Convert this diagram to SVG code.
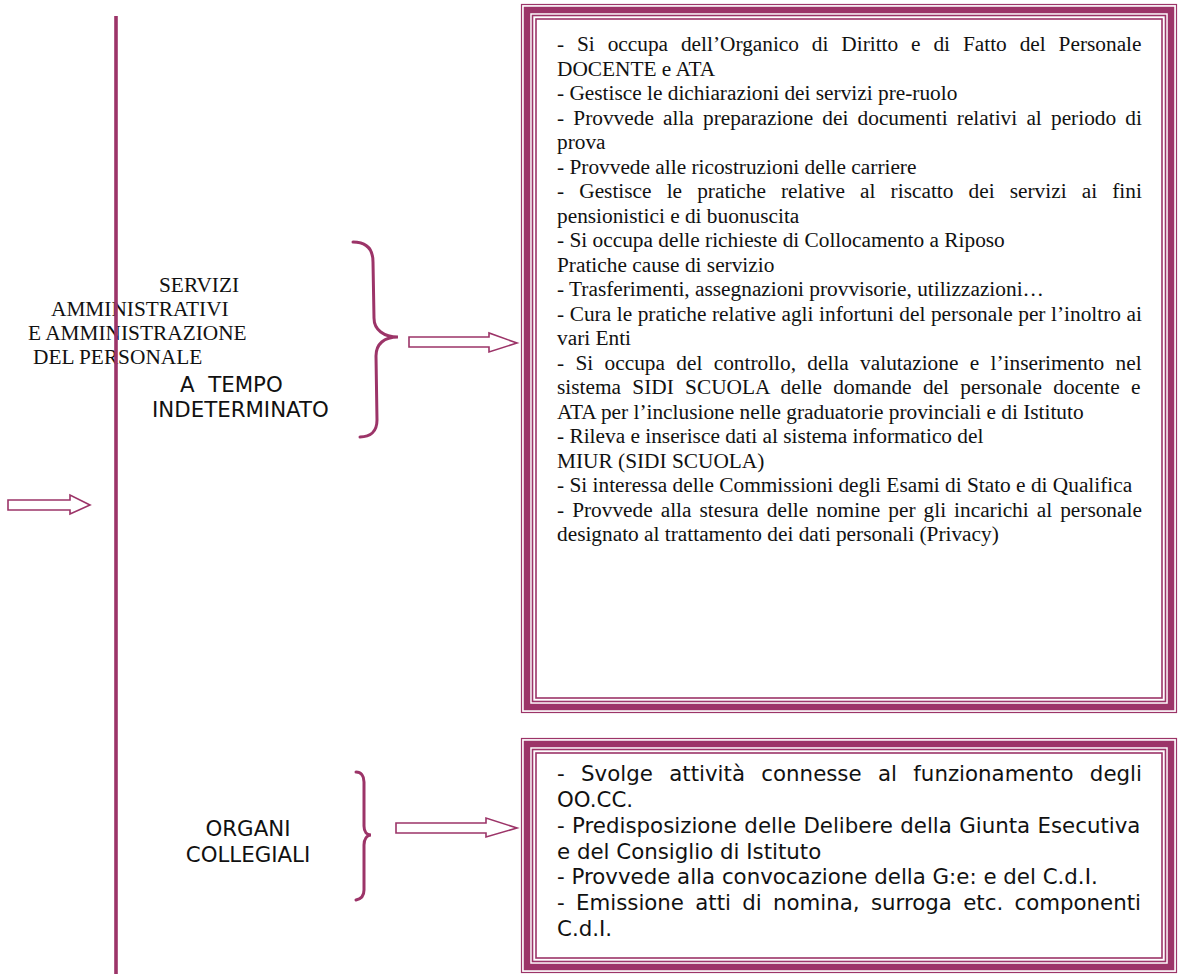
<svg xmlns="http://www.w3.org/2000/svg" width="1180" height="974" viewBox="0 0 1180 974">
<style>
.c{fill:none;stroke:#9C3468}
.ar{fill:#fff;stroke:#9C3468;stroke-width:1.6}
.br{fill:none;stroke:#9C3468;stroke-width:3;stroke-linecap:round}
.tm{font-family:"Liberation Serif","Times New Roman",serif;font-size:21.33px;fill:#111}
.sn{font-family:"DejaVu Sans",Verdana,sans-serif;font-size:21.33px;fill:#111}
</style>
<rect width="1180" height="974" fill="#fff"/>

<g id="box1">
<rect class="c" x="521.5" y="4.5" width="655" height="708" stroke-width="1.2"/>
<rect class="c" x="527" y="10" width="644" height="697" stroke-width="6.5"/>
<rect class="c" x="532.5" y="15.5" width="633" height="686" stroke-width="1.6"/>
<rect class="c" x="536" y="19" width="626" height="679" stroke-width="1.6"/>
<g class="tm">
<text x="557" y="51" word-spacing="7.55">- Si occupa dell’Organico di Diritto e di Fatto del Personale</text>
<text x="557" y="75.5">DOCENTE e ATA</text>
<text x="557" y="100">- Gestisce le dichiarazioni dei servizi pre-ruolo</text>
<text x="557" y="124.5" word-spacing="3.86">- Provvede alla preparazione dei documenti relativi al periodo di</text>
<text x="557" y="149">prova</text>
<text x="557" y="173.5">- Provvede alle ricostruzioni delle carriere</text>
<text x="557" y="198" word-spacing="9.81">- Gestisce le pratiche relative al riscatto dei servizi ai fini</text>
<text x="557" y="222.5">pensionistici e di buonuscita</text>
<text x="557" y="247">- Si occupa delle richieste di Collocamento a Riposo</text>
<text x="557" y="271.5">Pratiche cause di servizio</text>
<text x="557" y="296">- Trasferimenti, assegnazioni provvisorie, utilizzazioni…</text>
<text x="557" y="320.5" word-spacing="0.25">- Cura le pratiche relative agli infortuni del personale per l’inoltro ai</text>
<text x="557" y="345">vari Enti</text>
<text x="557" y="369.5" word-spacing="6.0">- Si occupa del controllo, della valutazione e l’inserimento nel</text>
<text x="557" y="394" word-spacing="6.0">sistema SIDI SCUOLA delle domande del personale docente e</text>
<text x="557" y="418.5">ATA per l’inclusione nelle graduatorie provinciali e di Istituto</text>
<text x="557" y="443">- Rileva e inserisce dati al sistema informatico del</text>
<text x="557" y="467.5">MIUR (SIDI SCUOLA)</text>
<text x="557" y="492">- Si interessa delle Commissioni degli Esami di Stato e di Qualifica</text>
<text x="557" y="516.5" word-spacing="2.7">- Provvede alla stesura delle nomine per gli incarichi al personale</text>
<text x="557" y="541">designato al trattamento dei dati personali (Privacy)</text>
</g>
</g>

<g id="box2">
<rect class="c" x="521.5" y="738.5" width="655" height="234" stroke-width="1.2"/>
<rect class="c" x="527" y="744" width="644" height="223" stroke-width="6.5"/>
<rect class="c" x="532.5" y="749.5" width="633" height="212" stroke-width="1.6"/>
<rect class="c" x="536" y="753" width="626" height="205" stroke-width="1.6"/>
<g class="sn">
<text x="557" y="781" word-spacing="9.6">- Svolge attività connesse al funzionamento degli</text>
<text x="557" y="807">OO.CC.</text>
<text x="557" y="833" word-spacing="0.6">- Predisposizione delle Delibere della Giunta Esecutiva</text>
<text x="557" y="859">e del Consiglio di Istituto</text>
<text x="557" y="884">- Provvede alla convocazione della G:e: e del C.d.I.</text>
<text x="557" y="910" word-spacing="4.5">- Emissione atti di nomina, surroga etc. componenti</text>
<text x="557" y="936">C.d.I.</text>
</g>
</g>

<g id="label-servizi">
<text class="tm" x="159" y="292">SERVIZI</text>
<text class="tm" x="51" y="316">AMMINISTRATIVI</text>
<text class="tm" x="28" y="340">E AMMINISTRAZIONE</text>
<text class="tm" x="33" y="364">DEL PERSONALE</text>
<text class="sn" x="180" y="392" xml:space="preserve">A  TEMPO</text>
<text class="sn" x="152" y="417">INDETERMINATO</text>
</g>

<g id="label-organi">
<text class="sn" x="248" y="836" text-anchor="middle">ORGANI</text>
<text class="sn" x="248" y="862" text-anchor="middle">COLLEGIALI</text>
</g>

<g id="connectors">
<line x1="116" y1="16" x2="116" y2="974" stroke="#9C3468" stroke-width="3.6"/>
<polygon class="ar" points="8,500 70,500 70,495 90,505 70,514 70,510 8,510"/>
<path class="br" d="M353,242 C366,242 373,248 373,262 L374,318 C374,330 384,337 398,337 C384,337 376,344 376,356 L377,420 C377,432 370,437 360,437"/>
<polygon class="ar" points="409,337 489,337 489,333 517,343 489,352 489,347 409,347"/>
<path class="br" stroke-width="2.6" d="M356,772 C361,772 364,776 364,782 L364,826 C364,832 367,835 371,835 C367,835 364,839 364,845 L364,890 C364,896 361,899 356,900"/>
<polygon class="ar" points="396,823 486,823 486,818 517,828 486,837 486,833 396,833"/>
</g>
</svg>
